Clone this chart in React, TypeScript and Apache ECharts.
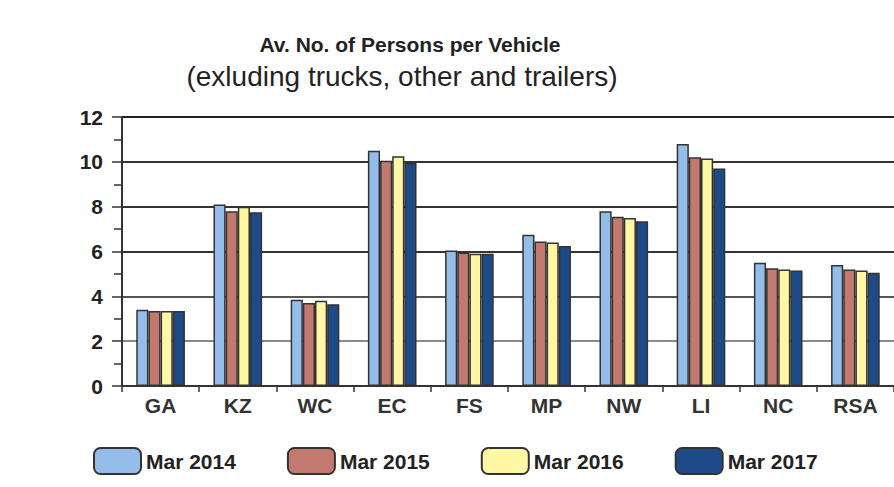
import React, { useEffect, useRef } from "react";
import * as echarts from "echarts";

const categories = ["GA", "KZ", "WC", "EC", "FS", "MP", "NW", "LI", "NC", "RSA"];
const seriesNames = ["Mar 2014", "Mar 2015", "Mar 2016", "Mar 2017"];
const mar2014 = [3.4, 8.1, 3.85, 10.5, 6.05, 6.75, 7.8, 10.8, 5.5, 5.4];
const mar2015 = [3.35, 7.8, 3.7, 10.05, 5.95, 6.45, 7.55, 10.2, 5.25, 5.2];
const mar2016 = [3.35, 8.0, 3.8, 10.25, 5.9, 6.4, 7.5, 10.15, 5.2, 5.15];
const mar2017 = [3.35, 7.75, 3.65, 9.95, 5.9, 6.25, 7.35, 9.7, 5.15, 5.05];
const colors = ["#95BDEA", "#C27A70", "#FFF7A3", "#1E4B88"];
const titleText = "Av. No. of Persons per Vehicle";
const subtitleText = "(exluding trucks, other and trailers)";

export default function App() {
  const ref = useRef<HTMLDivElement>(null);
  useEffect(() => {
    if (!ref.current) return;
    const chart = echarts.init(ref.current, null, { renderer: "svg" });
    const data = [mar2014, mar2015, mar2016, mar2017];
    const font = "Liberation Sans, Arial, sans-serif";
    chart.setOption({
      animation: false,
      backgroundColor: "#ffffff",
      textStyle: { fontFamily: font },
      graphic: [
        {
          type: "text",
          x: 410,
          y: 34,
          style: {
            text: titleText,
            textAlign: "center",
            textVerticalAlign: "top",
            font: "bold 21px Liberation Sans, Arial, sans-serif",
            fill: "#222",
          },
        },
        {
          type: "text",
          x: 402,
          y: 62,
          style: {
            text: subtitleText,
            textAlign: "center",
            textVerticalAlign: "top",
            font: "28px Liberation Sans, Arial, sans-serif",
            fill: "#222",
          },
        },
      ],
      legend: {
        left: 88,
        top: 442,
        itemWidth: 47,
        itemHeight: 26,
        itemGap: 51,
        textStyle: { fontSize: 21, fontWeight: "bold", color: "#222", fontFamily: font },
        data: seriesNames,
      },
      grid: { left: 122, right: -3, top: 117, bottom: 101, containLabel: false },
      xAxis: {
        type: "category",
        data: categories,
        axisLine: { lineStyle: { color: "#333", width: 2 } },
        axisTick: { show: true, length: 6, lineStyle: { color: "#333", width: 1.5 } },
        axisLabel: { fontSize: 21, fontWeight: "bold", color: "#333", margin: 9, fontFamily: font },
      },
      yAxis: {
        type: "value",
        min: 0,
        max: 12,
        interval: 2,
        axisLine: { show: true, lineStyle: { color: "#333", width: 2 } },
        axisTick: { show: true, length: 10, lineStyle: { color: "#333", width: 1.5 } },
        minorTick: { show: true, splitNumber: 2, length: 8, lineStyle: { color: "#333", width: 1.5 } },
        axisLabel: { fontSize: 21, fontWeight: "bold", color: "#222", margin: 19, fontFamily: font },
        splitLine: {
          show: true,
          lineStyle: {
            color: ["#444", "#8a8a8a", "#555", "#333", "#333", "#333", "#222"],
            width: 1.8,
          },
        },
      },
      series: seriesNames.map((name, i) => ({
        name,
        type: "bar",
        data: data[i],
        barGap: "0%",
        barCategoryGap: "37%",
        itemStyle: { color: colors[i], borderColor: "#333", borderWidth: 1.5 },
      })),
    });
    return () => chart.dispose();
  }, []);
  return (
    <div
      ref={ref}
      style={{ position: "fixed", left: 0, top: 0, width: 894, height: 487 }}
    />
  );
}
